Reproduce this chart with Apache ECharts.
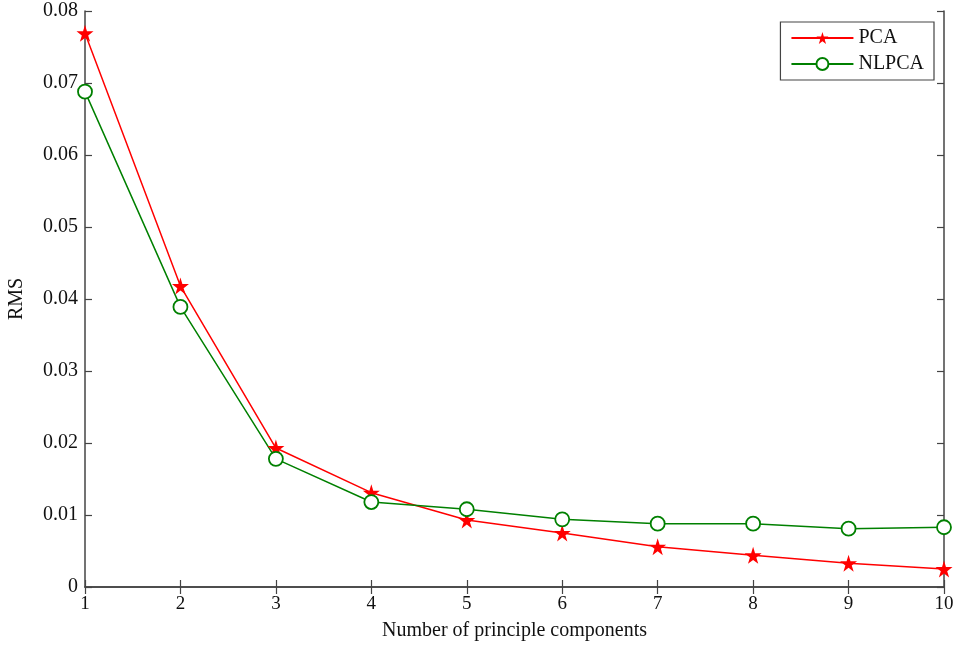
<!DOCTYPE html>
<html><head><meta charset="utf-8">
<script src="https://cdn.jsdelivr.net/npm/echarts@6/dist/echarts.min.js"></script>
<style>html,body{margin:0;padding:0;background:#fff}#c{width:956px;height:647px}</style>
</head><body><div id="c"></div>
<script>
const components = [1,2,3,4,5,6,7,8,9,10];
const pcaValues = [0.0769,0.0418,0.0193,0.0131,0.0093,0.0075,0.0056,0.0044,0.0033,0.0025];
const nlpcaValues = [0.0688,0.0389,0.0178,0.0118,0.0108,0.0094,0.0088,0.0088,0.0081,0.0083];
const yTickLabels = ['0','0.01','0.02','0.03','0.04','0.05','0.06','0.07','0.08'];

const STAR = 'path://M50,0 L61,35 L98,35 L68,57 L79,91 L50,70 L21,91 L32,57 L2,35 L39,35 Z';
const font = 'Liberation Serif';
const axisCol = '#444';

const chart = echarts.init(document.getElementById('c'));
const common = {
  axisLine:{show:true,lineStyle:{color:axisCol,width:1.5}},
  axisTick:{show:true,inside:true,length:7,lineStyle:{color:axisCol,width:1.2}},
  splitLine:{show:false}
};
chart.setOption({
  animation:false,
  textStyle:{fontFamily:font},
  grid:{left:85,right:12,top:11,bottom:60,containLabel:false,outerBoundsMode:'none'},
  legend:{
    right:22,top:22,orient:'vertical',
    data:['PCA','NLPCA'],
    backgroundColor:'#fff',borderColor:axisCol,borderWidth:1.2,borderRadius:0,
    padding:[6,10,6,10],itemGap:6,itemWidth:62,itemHeight:15,
    textStyle:{fontFamily:font,fontSize:20,color:'#111'}
  },
  xAxis:[
    Object.assign({type:'value',min:1,max:10,interval:1,position:'bottom',
      name:'Number of principle components',nameLocation:'middle',nameGap:34,
      nameTextStyle:{fontFamily:font,fontSize:20,color:'#111'},
      axisLabel:{fontFamily:font,fontSize:19,color:'#111',margin:8}},common),
    Object.assign({type:'value',min:1,max:10,interval:1,position:'top',axisLabel:{show:false}},common)
  ],
  yAxis:[
    Object.assign({type:'value',min:0,max:0.08,interval:0.01,position:'left',
      name:'RMS',nameLocation:'middle',nameGap:58,nameRotate:90,
      nameTextStyle:{fontFamily:font,fontSize:20,color:'#111'},
      axisLabel:{fontFamily:font,fontSize:20,color:'#111',margin:7,
        formatter:(v)=>yTickLabels[Math.round(v*100)]}},common),
    Object.assign({type:'value',min:0,max:0.08,interval:0.01,position:'right',axisLabel:{show:false}},common)
  ],
  series:[
    {name:'PCA',type:'line',data:components.map((c,i)=>[c,pcaValues[i]]),
      symbol:STAR,symbolSize:17,showAllSymbol:true,
      lineStyle:{color:'#ff0000',width:1.5},itemStyle:{color:'#ff0000'}},
    {name:'NLPCA',type:'line',data:components.map((c,i)=>[c,nlpcaValues[i]]),
      symbol:'circle',symbolSize:14,showAllSymbol:true,
      lineStyle:{color:'#008000',width:1.5},itemStyle:{color:'#fff',borderColor:'#008000',borderWidth:1.8}}
  ]
});
</script></body></html>
